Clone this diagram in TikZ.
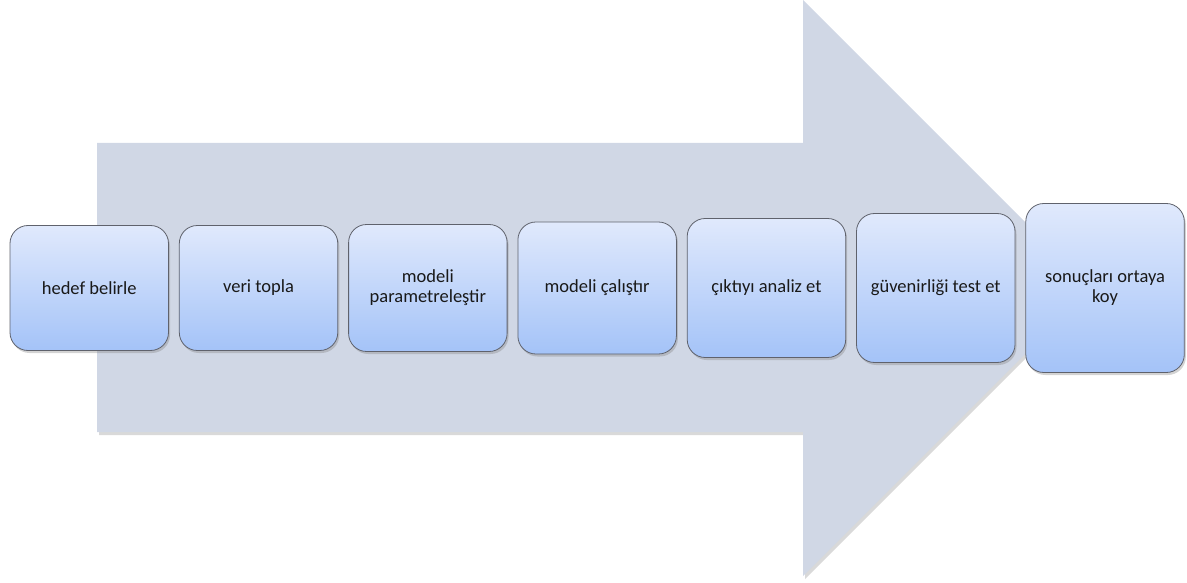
\documentclass[tikz,border=0pt]{standalone}
\usepackage{fontspec}
\setmainfont{Carlito}
\usetikzlibrary{positioning}
\usetikzlibrary{shadows}

\definecolor{arrowfill}{RGB}{208,215,229}
\definecolor{boxtop}{RGB}{224,233,252}
\definecolor{boxbottom}{RGB}{164,195,248}
\definecolor{boxline}{RGB}{95,98,108}

\begin{document}
\begin{tikzpicture}[x=1pt, y=1pt]
    \tikzset{
        every node/.style={font=\fontsize{18.5}{20}\selectfont, text=black!90},
        stepbox/.style={draw=boxline, line width=0.8pt, rounded corners=18pt,
            top color=boxtop, bottom color=boxbottom,
            minimum width=158.5pt, inner sep=0pt, align=center,
            drop shadow={shadow xshift=1.5pt, shadow yshift=-2.5pt, opacity=0.35}}
    }
    \useasboundingbox (0,0) rectangle (1187,582);

    % big arrow behind the steps
    \coordinate (tail top) at (97,439);
    \coordinate (tail bot) at (97,150);
    \coordinate (tip) at (1091,294);
    \fill [arrowfill, drop shadow={shadow xshift=2pt, shadow yshift=-3pt, opacity=0.3}]
        (tail bot) -- (tail top) -- (803,439) -- (803,582) -- (tip)
        -- (803,6) -- (803,150) -- cycle;

    % the steps, growing towards the tip
    \node [stepbox, minimum height=125pt] (b1) at (89.25,294) {hedef belirle};
    \node [stepbox, minimum height=125pt, right=10pt of b1] (b2) {veri topla};
    \node [stepbox, minimum height=127pt, right=10pt of b2] (b3) {modeli\\parametreleştir};
    \node [stepbox, minimum height=132pt, right=10pt of b3] (b4) {modeli çalıştır};
    \node [stepbox, minimum height=139pt, right=10pt of b4] (b5) {çıktıyı analiz et};
    \node [stepbox, minimum height=149pt, right=10pt of b5] (b6) {güvenirliği test et};
    \node [stepbox, minimum height=169pt, right=10pt of b6] (b7) {sonuçları ortaya\\koy};

\end{tikzpicture}
\end{document}
